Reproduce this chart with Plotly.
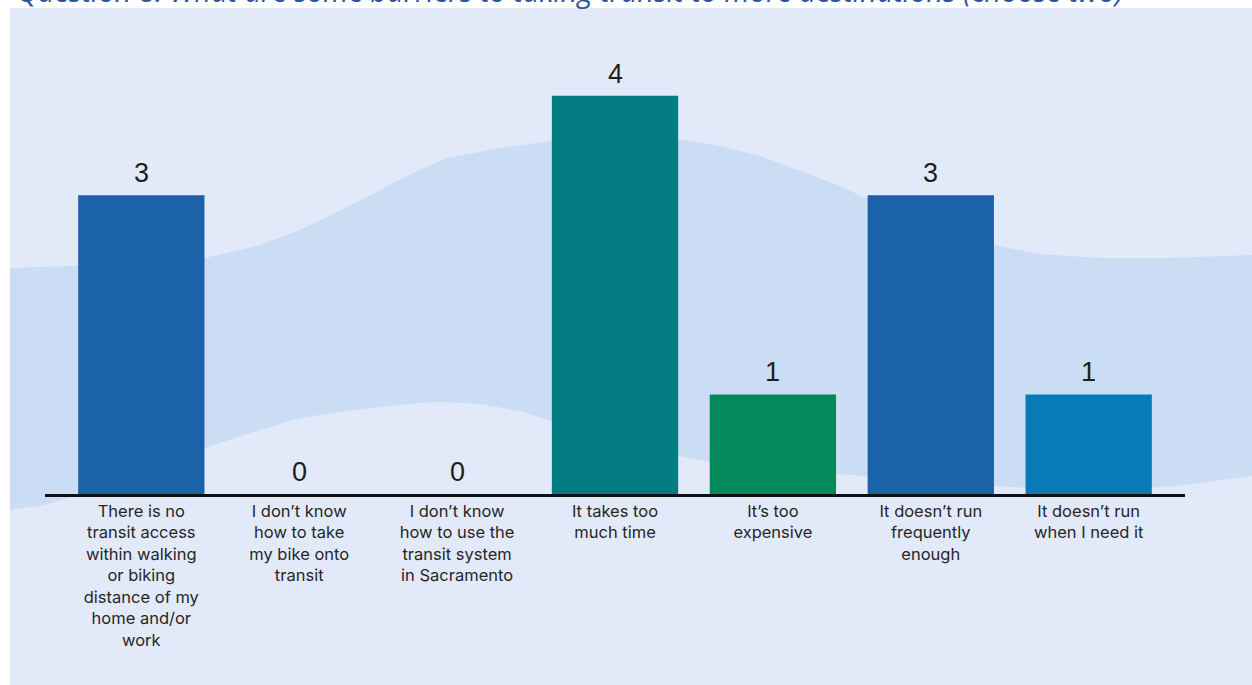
import plotly.graph_objects as go

# ---- data ----
categories = [
    "There is no<br>transit access<br>within walking<br>or biking<br>distance of my<br>home and/or<br>work",
    "I don\u2019t know<br>how to take<br>my bike onto<br>transit",
    "I don\u2019t know<br>how to use the<br>transit system<br>in Sacramento",
    "It takes too<br>much time",
    "It\u2019s too<br>expensive",
    "It doesn\u2019t run<br>frequently<br>enough",
    "It doesn\u2019t run<br>when I need it",
]
values = [3, 0, 0, 4, 1, 3, 1]
bar_colors = ["#1B62A9", "#1B62A9", "#1B62A9", "#047D82", "#04895A", "#1B62A9", "#087AB7"]
title_text = "Question 8: What are some barriers to taking transit to more destinations (choose two)"

W, H = 1252, 685
ML, MR, MT, MB = 45, 67, 40, 191
PW, PH = W - ML - MR, H - MT - MB


def px(x, y):
    """pixel -> paper coords"""
    return (x - ML) / PW, (H - MB - y) / PH


def path_from(points):
    pts = [px(x, y) for x, y in points]
    s = "M {:.4f},{:.4f}".format(*pts[0])
    for p in pts[1:]:
        s += " L {:.4f},{:.4f}".format(*p)
    return s + " Z"


# decorative background
upper = [(10, 268), (100, 265), (205, 258), (260, 245), (300, 230), (335, 213), (367, 197),
         (395, 182), (420, 170), (447, 158), (500, 148), (551, 141), (600, 137), (640, 136),
         (680, 139), (720, 146), (760, 156), (798, 170), (835, 184), (868, 199), (910, 218),
         (950, 233), (994, 245), (1040, 254), (1100, 258), (1170, 258), (1252, 255)]
lower = [(1252, 476), (1185, 485), (1100, 492), (1010, 487), (930, 481), (850, 475),
         (780, 469), (700, 460), (640, 449), (590, 433), (551, 421), (520, 411), (480, 404),
         (440, 402), (420, 403), (380, 407), (340, 412), (300, 418), (260, 430), (205, 448),
         (150, 470), (100, 488), (45, 505), (10, 510)]

shapes = [
    dict(type="rect", xref="paper", yref="paper", layer="below",
         x0=px(10, 0)[0], x1=px(1260, 0)[0], y0=px(0, 8)[1], y1=px(0, 700)[1],
         fillcolor="#E2EAFA", line=dict(width=0)),
    dict(type="path", xref="paper", yref="paper", layer="below",
         path=path_from(upper + lower), fillcolor="#CBDCF5", line=dict(width=0)),
]

fig = go.Figure()
fig.add_trace(go.Bar(
    x=list(range(len(categories))), y=values,
    marker=dict(color=bar_colors, line=dict(width=0)),
    width=0.8, hoverinfo="skip",
))

annotations = []
for i, v in enumerate(values):
    annotations.append(dict(
        x=i, y=v, xref="x", yref="y", text=str(v), showarrow=False,
        yanchor="bottom", yshift=5,
        font=dict(family="Liberation Sans, Arial, sans-serif", size=27, color="#1E1E1E"),
    ))

tx, ty = px(15, 12)
annotations.append(dict(
    x=tx, y=ty, xref="paper", yref="paper", xanchor="left", yanchor="bottom",
    text="<i>" + title_text + "</i>", showarrow=False,
    font=dict(family="Open Sans, sans-serif", size=29, color="#2F5597"),
))

fig.update_layout(
    width=W, height=H,
    margin=dict(l=ML, r=MR, t=MT, b=MB),
    paper_bgcolor="white", plot_bgcolor="rgba(0,0,0,0)",
    shapes=shapes, annotations=annotations, showlegend=False,
    xaxis=dict(
        range=[-0.61, 6.61], tickmode="array", tickvals=list(range(len(categories))),
        ticktext=categories, showgrid=False, zeroline=False,
        showline=True, linecolor="#111111", linewidth=3, ticks="",
        tickfont=dict(family="Inter, sans-serif", size=16.5, color="#262626"),
        fixedrange=True,
    ),
    yaxis=dict(range=[0, 4.56], visible=False, showgrid=False, zeroline=False, fixedrange=True),
)

fig.write_html("out.html")
